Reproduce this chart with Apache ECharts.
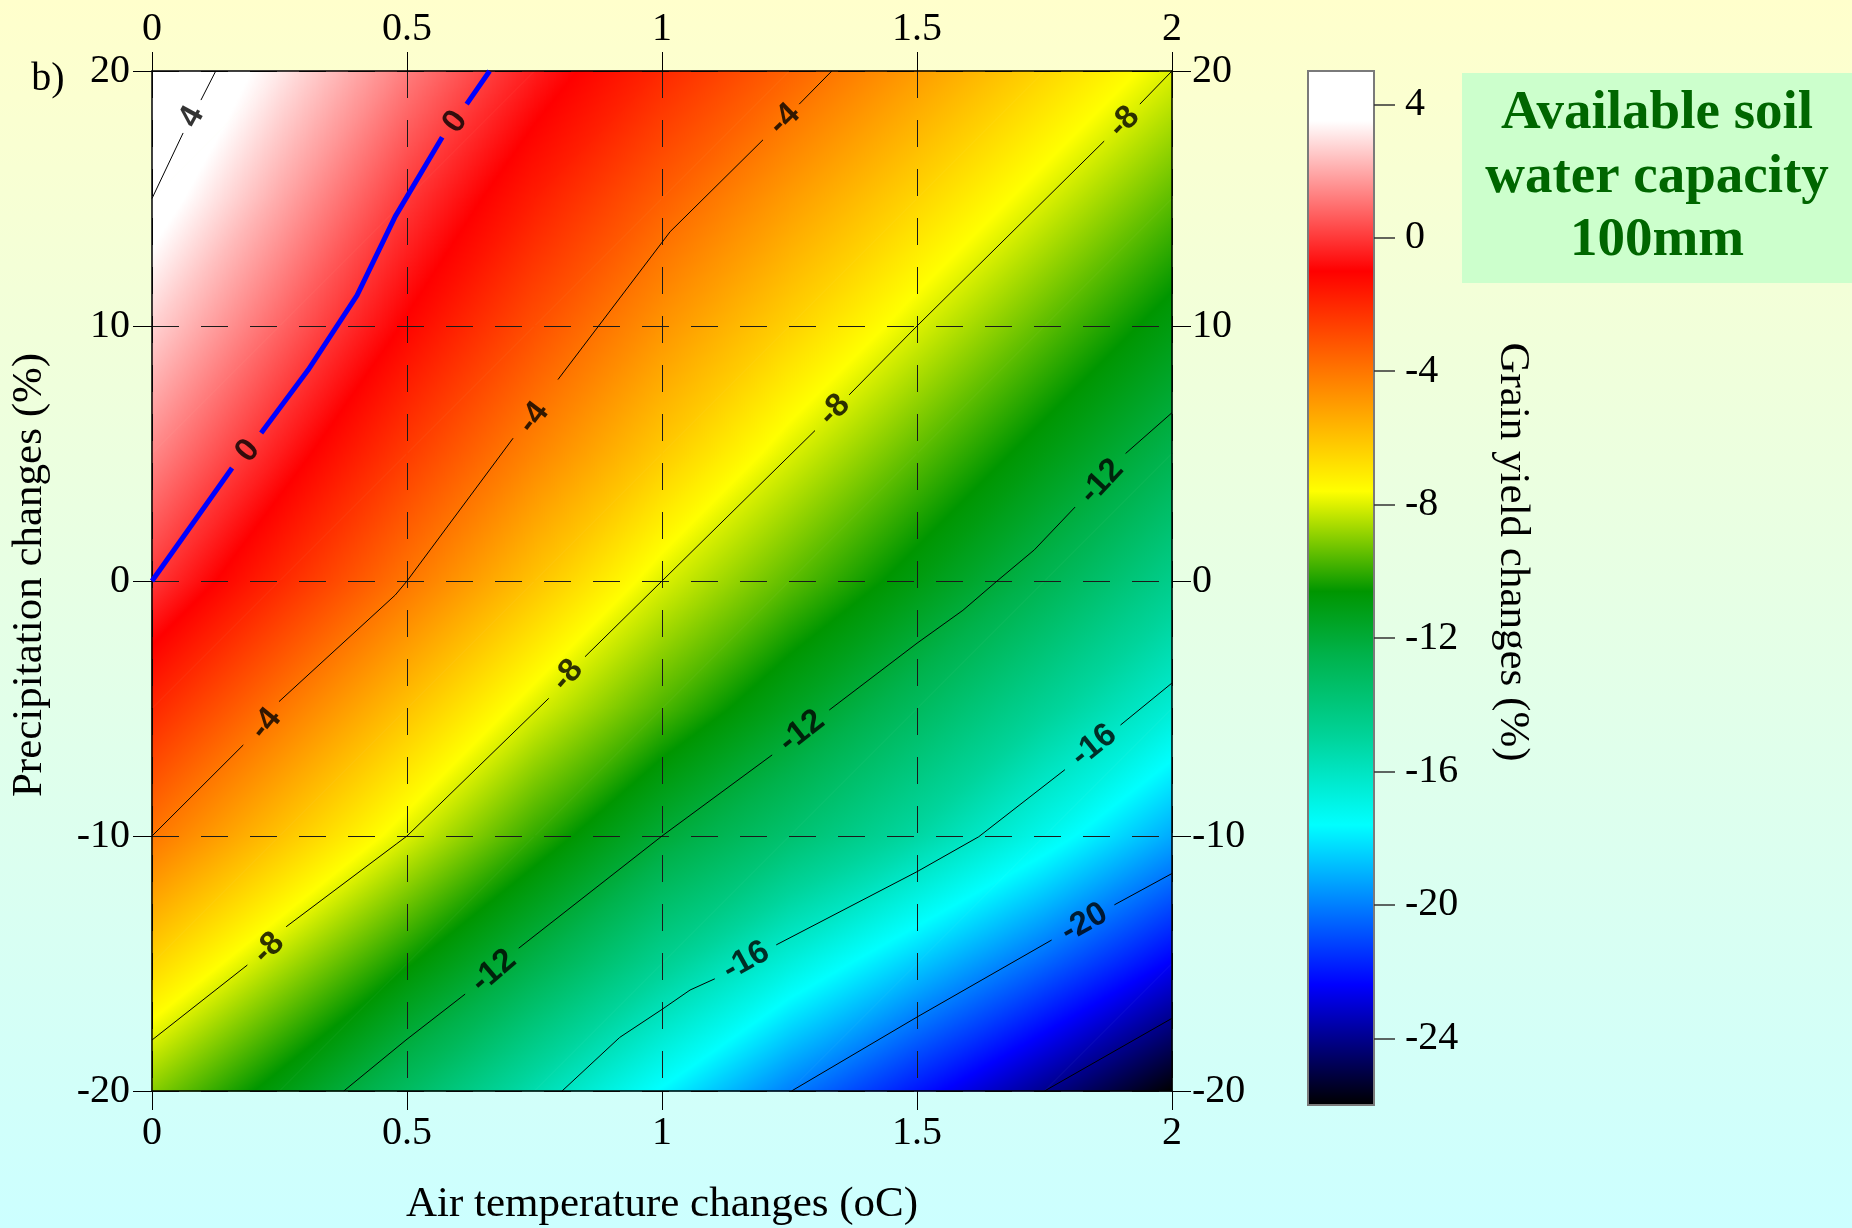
<!DOCTYPE html>
<html>
<head>
<meta charset="utf-8">
<script src="https://cdn.jsdelivr.net/npm/echarts@6/dist/echarts.min.js"></script>
<style>
    html, body { margin: 0; padding: 0; }
    #chart { width: 1852px; height: 1228px; }
</style>
</head>
<body>
<div id="chart"></div>
<script type="text/javascript">
// grid of the grain yield change field (%)
var tempSteps = [0, 0.25, 0.5, 0.75, 1, 1.25, 1.5, 1.75, 2];
var precSteps = [-20, -15, -10, -5, 0, 5, 10, 15, 20];
// one row per precipitation step, one column per temperature step
var yieldRows = [
    [-9, -11.0, -13.2, -15.5, -17.7, -20.0, -22.0, -24.0, -26.0],
    [-6.5, -8.5, -10.5, -12.5, -14.7, -16.7, -18.6, -20.5, -22.5],
    [-4, -6, -8, -10, -12, -13.6, -15.2, -17.1, -19.2],
    [-2, -4, -6, -8, -9.7, -11.4, -13.1, -14.8, -16.5],
    [0, -2, -4, -6, -8, -9.5, -11.0, -12.7, -14.5],
    [1.4, -0.5, -2.5, -4.4, -6.2, -8, -9.5, -11.0, -12.6],
    [2.7, 0.8, -1.1, -3.0, -4.8, -6.4, -8, -9.5, -11.0],
    [4, 2.0, 0, -1.7, -3.4, -5.0, -6.5, -8, -9.5],
    [4.9, 3.1, 1.2, -0.5, -2.0, -3.5, -5.0, -6.5, -8]
];

// contour lines [temperature, precipitation], null = gap for the label
var contour4 = [[0, 15], [0.061, 17.57], null, [0.096, 18.86], [0.125, 20]];
var contour0 = [[0, 0], [0.157, 4.43], null, [0.214, 5.8], [0.306, 8.27], [0.402, 11.2], [0.477, 14.3], [0.569, 17.4], null, [0.617, 18.7], [0.662, 20]];
var contourM4 = [[0, -10], [0.179, -6.43], null, [0.249, -4.73], [0.477, -0.55], [0.5, 0], [0.708, 5.6], null, [0.796, 7.9], [1.016, 13.7], [1.198, 17.3], null, [1.269, 18.7], [1.333, 20]];
var contourM8 = [[0, -18], [0.187, -15.06], null, [0.263, -13.56], [0.48, -10.3], [0.5, -10], [0.778, -4.6], null, [0.849, -2.97], [1, 0], [1.3, 5.9], null, [1.367, 7.3], [1.5, 10], [1.867, 17.25], null, [1.937, 18.7], [2, 20]];
var contourM12 = [[0.376, -20], [0.498, -18], [0.614, -16.2], null, [0.719, -14.4], [1, -10], [1.216, -6.82], null, [1.328, -5.06], [1.5, -2.44], [1.59, -1.15], [1.657, 0], [1.73, 1.22], [1.81, 2.9], null, [1.909, 5.0], [2, 6.6]];
var contourM16 = [[0.804, -20], [0.917, -17.9], [1, -16.8], [1.055, -16.04], [1.1035, -15.6], null, [1.224, -14.27], [1.5, -11.4], [1.621, -10.03], [1.79, -7.4], null, [1.899, -5.65], [2, -4]];
var contourM20 = [[1.254, -20], [1.5, -17.1], [1.764, -14.08], null, [1.887, -12.7], [2, -11.47]];
var contourM24 = [[1.75, -20], [2, -17.15]];

// contour labels [temperature, precipitation, level]
var contourLabels = [
    [0.078, 18.2, 4],
    [0.595, 18.0, 0],
    [0.188, 5.1, 0],
    [0.223, -5.6, -4],
    [0.748, 6.4, -4],
    [1.240, 18.1, -4],
    [0.229, -14.4, -8],
    [0.815, -3.7, -8],
    [1.338, 6.7, -8],
    [1.906, 18.0, -8],
    [0.670, -15.3, -12],
    [1.274, -5.9, -12],
    [1.862, 3.9, -12],
    [1.165, -14.9, -16],
    [1.847, -6.45, -16],
    [1.828, -13.4, -20]
];

var colorbarTicks = [-24, -20, -16, -12, -8, -4, 0, 4];

// colour scale of the key
var cmapStops = [
    [-26, [0, 0, 0]],
    [-22.4, [0, 0, 255]],
    [-17.6, [0, 255, 255]],
    [-15, [0, 212, 155]],
    [-12.5, [0, 178, 75]],
    [-10.6, [0, 150, 0]],
    [-7.6, [255, 255, 0]],
    [-4, [255, 118, 0]],
    [-1, [255, 0, 0]],
    [3.5, [255, 255, 255]],
    [5, [255, 255, 255]]
];

function cmap(v) {
    if (v <= cmapStops[0][0]) return 'rgb(0,0,0)';
    for (var k = 1; k < cmapStops.length; k++) {
        var a = cmapStops[k - 1], b = cmapStops[k];
        if (v <= b[0]) {
            var f = (v - a[0]) / (b[0] - a[0]);
            var c = [0, 1, 2].map(function (n) { return Math.round(a[1][n] + (b[1][n] - a[1][n]) * f); });
            return 'rgb(' + c.join(',') + ')';
        }
    }
    return 'rgb(255,255,255)';
}

function gradientFor(x0, y0, v0, gx, gy, vmin, vmax) {
    var g2 = gx * gx + gy * gy;
    var s0 = (vmin - v0) / g2, s1 = (vmax - v0) / g2;
    var stops = [{offset: 0, color: cmap(vmin)}];
    cmapStops.forEach(function (s) {
        if (s[0] > vmin && s[0] < vmax) {
            stops.push({offset: (s[0] - vmin) / (vmax - vmin), color: cmap(s[0])});
        }
    });
    stops.push({offset: 1, color: cmap(vmax)});
    return new echarts.graphic.LinearGradient(x0 + gx * s0, y0 + gy * s0, x0 + gx * s1, y0 + gy * s1, stops, true);
}

// one triangle with a linear colour ramp between its corners
function triangle(pts, vals) {
    var d1x = pts[1][0] - pts[0][0], d1y = pts[1][1] - pts[0][1];
    var d2x = pts[2][0] - pts[0][0], d2y = pts[2][1] - pts[0][1];
    var dv1 = vals[1] - vals[0], dv2 = vals[2] - vals[0];
    var det = d1x * d2y - d1y * d2x;
    var gx = (dv1 * d2y - d1y * dv2) / det;
    var gy = (d1x * dv2 - dv1 * d2x) / det;
    var vmin = Math.min.apply(null, vals), vmax = Math.max.apply(null, vals);
    var fill;
    if (vmax - vmin < 1e-6 || gx * gx + gy * gy < 1e-12) {
        fill = cmap(vals[0]);
    } else {
        fill = gradientFor(pts[0][0], pts[0][1], vals[0], gx, gy, vmin, vmax);
    }
    return {type: 'polygon', shape: {points: pts}, style: {fill: fill, stroke: fill, lineWidth: 1}};
}

var cellData = [];
for (var j = 0; j < precSteps.length - 1; j++) {
    for (var i = 0; i < tempSteps.length - 1; i++) {
        cellData.push([tempSteps[i], precSteps[j], tempSteps[i + 1], precSteps[j + 1],
            yieldRows[j][i], yieldRows[j][i + 1], yieldRows[j + 1][i], yieldRows[j + 1][i + 1]]);
    }
}

var contourSets = [
    {level: 4, pts: contour4, color: '#000', width: 1},
    {level: 0, pts: contour0, color: '#0000ff', width: 5},
    {level: -4, pts: contourM4, color: '#000', width: 1},
    {level: -8, pts: contourM8, color: '#000', width: 1},
    {level: -12, pts: contourM12, color: '#000', width: 1},
    {level: -16, pts: contourM16, color: '#000', width: 1},
    {level: -20, pts: contourM20, color: '#000', width: 1},
    {level: -24, pts: contourM24, color: '#000', width: 1}
];

var plotW = 1020, plotH = 1020;
var kx = plotW / 2, ky = plotH / 40;

// rotate each label along the gap of its contour
function labelAngle(lab) {
    var set = contourSets.filter(function (s) { return s.level === lab[2]; })[0];
    var best = null, bestD = Infinity;
    for (var n = 1; n < set.pts.length - 1; n++) {
        if (set.pts[n] !== null) continue;
        var a = set.pts[n - 1], b = set.pts[n + 1];
        var mx = (a[0] + b[0]) / 2, my = (a[1] + b[1]) / 2;
        var d = Math.pow((mx - lab[0]) * kx, 2) + Math.pow((my - lab[1]) * ky, 2);
        if (d < bestD) { bestD = d; best = [a, b]; }
    }
    return Math.atan2((best[1][1] - best[0][1]) * ky, (best[1][0] - best[0][0]) * kx) * 180 / Math.PI;
}

var serif = '"Liberation Serif", "Times New Roman", serif';
var tickFont = {fontSize: 40, fontFamily: serif, color: '#000'};

var series = [{
    type: 'custom',
    xAxisIndex: 0,
    yAxisIndex: 0,
    z: 1,
    silent: true,
    encode: {x: [0, 2], y: [1, 3]},
    data: cellData,
    renderItem: function (params, api) {
        var p00 = api.coord([api.value(0), api.value(1)]);
        var p10 = api.coord([api.value(2), api.value(1)]);
        var p01 = api.coord([api.value(0), api.value(3)]);
        var p11 = api.coord([api.value(2), api.value(3)]);
        var v00 = api.value(4), v10 = api.value(5), v01 = api.value(6), v11 = api.value(7);
        return {
            type: 'group',
            children: [
                triangle([p00, p10, p11], [v00, v10, v11]),
                triangle([p00, p11, p01], [v00, v11, v01])
            ]
        };
    }
}];

contourSets.forEach(function (s) {
    series.push({
        type: 'line',
        xAxisIndex: 0,
        yAxisIndex: 0,
        z: 6,
        silent: true,
        showSymbol: false,
        symbol: 'none',
        connectNulls: false,
        lineStyle: {color: s.color, width: s.width},
        data: s.pts
    });
});

series.push({
    type: 'scatter',
    xAxisIndex: 0,
    yAxisIndex: 0,
    z: 7,
    silent: true,
    symbolSize: 1,
    itemStyle: {color: 'rgba(0,0,0,0)'},
    label: {
        show: true,
        position: 'inside',
        fontSize: 33,
        fontWeight: 'bold',
        fontFamily: '"Liberation Sans", Arial, sans-serif',
        color: '#000',
        formatter: function (p) { return String(p.value[2]); }
    },
    data: contourLabels.map(function (lab) {
        return {value: lab, label: {rotate: labelAngle(lab)}};
    })
});

// colour key
series.push({
    type: 'custom',
    xAxisIndex: 2,
    yAxisIndex: 2,
    z: 2,
    silent: true,
    encode: {x: [0, 2], y: [1, 3]},
    data: [[0, -26, 1, 5]],
    renderItem: function (params, api) {
        var lo = api.coord([api.value(0), api.value(1)]);
        var hi = api.coord([api.value(2), api.value(3)]);
        var vmin = api.value(1), vmax = api.value(3);
        var gy = -(vmax - vmin) / (lo[1] - hi[1]);
        var fill = gradientFor(lo[0], lo[1], vmin, 0, gy, vmin, vmax);
        return {
            type: 'rect',
            shape: {x: lo[0], y: hi[1], width: hi[0] - lo[0], height: lo[1] - hi[1]},
            style: {fill: fill, stroke: '#7a7a7a', lineWidth: 2}
        };
    }
});

var mainAxisX = function (pos, split) {
    return {
        gridIndex: 0, type: 'value', min: 0, max: 2, interval: 0.5, position: pos, z: 5,
        axisLine: {onZero: false, lineStyle: {color: '#000', width: 1.5}},
        axisTick: {length: 19, lineStyle: {color: '#000', width: 1}},
        axisLabel: Object.assign({margin: 22}, tickFont),
        splitLine: {show: split, lineStyle: {type: [27, 22], color: '#1a1a1a', width: 1}}
    };
};
var mainAxisY = function (pos, split, margin) {
    return {
        gridIndex: 0, type: 'value', min: -20, max: 20, interval: 10, position: pos, z: 5,
        axisLine: {onZero: false, lineStyle: {color: '#000', width: 1.5}},
        axisTick: {length: 19, lineStyle: {color: '#000', width: 1}},
        axisLabel: Object.assign({margin: margin}, tickFont),
        splitLine: {show: split, lineStyle: {type: [27, 22], color: '#1a1a1a', width: 1}}
    };
};

var titleFont = '43px ' + serif;

var myChart = echarts.init(document.getElementById('chart'));
myChart.setOption({
    animation: false,
    backgroundColor: new echarts.graphic.LinearGradient(0, 0, 0, 1, [
        {offset: 0, color: '#ffffcc'},
        {offset: 1, color: '#ccffff'}
    ]),
    grid: [
        {left: 152, top: 71, width: plotW, height: plotH},
        {left: 1308, top: 71, width: 66, height: 1034}
    ],
    xAxis: [
        mainAxisX('bottom', true),
        mainAxisX('top', false),
        {gridIndex: 1, type: 'value', min: 0, max: 1, show: false}
    ],
    yAxis: [
        mainAxisY('left', true, 22),
        mainAxisY('right', false, 20),
        {
            gridIndex: 1, type: 'value', min: -26, max: 5, position: 'right', z: 5,
            axisLine: {show: false, onZero: false},
            axisTick: {show: true, customValues: colorbarTicks, length: 21, lineStyle: {color: '#333', width: 1.5}},
            axisLabel: Object.assign({margin: 31, customValues: colorbarTicks}, tickFont),
            splitLine: {show: false}
        }
    ],
    graphic: [
        {type: 'rect', left: 1462, top: 73, shape: {width: 390, height: 210}, style: {fill: '#ccffcc'}, z: 10},
        {type: 'text', x: 1657, y: 114, z: 11, style: {text: 'Available soil', font: 'bold 55px ' + serif, fill: '#006600', align: 'center', verticalAlign: 'middle', textAlign: 'center', textVerticalAlign: 'middle'}},
        {type: 'text', x: 1657, y: 178, z: 11, style: {text: 'water capacity', font: 'bold 55px ' + serif, fill: '#006600', align: 'center', verticalAlign: 'middle', textAlign: 'center', textVerticalAlign: 'middle'}},
        {type: 'text', x: 1657, y: 241, z: 11, style: {text: '100mm', font: 'bold 55px ' + serif, fill: '#006600', align: 'center', verticalAlign: 'middle', textAlign: 'center', textVerticalAlign: 'middle'}},
        {type: 'text', x: 48, y: 79, z: 11, style: {text: 'b)', font: '40px ' + serif, fill: '#000', align: 'center', verticalAlign: 'middle', textAlign: 'center', textVerticalAlign: 'middle'}},
        {type: 'text', x: 30, y: 575, rotation: Math.PI / 2, z: 11, style: {text: 'Precipitation changes (%)', font: titleFont, fill: '#000', align: 'center', verticalAlign: 'middle', textAlign: 'center', textVerticalAlign: 'middle'}},
        {type: 'text', x: 662, y: 1205, z: 11, style: {text: 'Air temperature changes (oC)', font: titleFont, fill: '#000', align: 'center', verticalAlign: 'middle', textAlign: 'center', textVerticalAlign: 'middle'}},
        {type: 'text', x: 1512, y: 552, rotation: -Math.PI / 2, z: 11, style: {text: 'Grain yield changes (%)', font: titleFont, fill: '#000', align: 'center', verticalAlign: 'middle', textAlign: 'center', textVerticalAlign: 'middle'}}
    ],
    series: series
});
</script>
</body>
</html>
